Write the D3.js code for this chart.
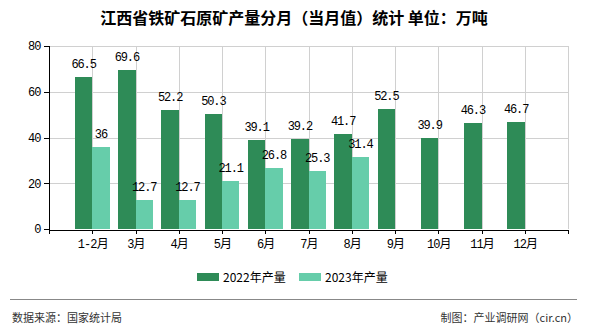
<!DOCTYPE html>
<html><head><meta charset="utf-8">
<script src="https://cdn.jsdelivr.net/npm/d3@7"></script>
<style>
html,body{margin:0;padding:0;background:#fff;}
svg{display:block;}
</style></head>
<body>
<script>
const categories = ["1-2月","3月","4月","5月","6月","7月","8月","9月","10月","11月","12月"];
const values2022 = [66.5,69.6,52.2,50.3,39.1,39.2,41.7,52.5,39.9,46.3,46.7];
const values2023 = [36,12.7,12.7,21.1,26.8,25.3,31.4,null,null,null,null];
const seriesNames = ["2022年产量","2023年产量"];
const seriesColors = ["#2E8B57","#66CDAA"];
const yTicks = [0,20,40,60,80];
const titleText = "江西省铁矿石原矿产量分月（当月值）统计 单位：万吨";
const sourceText = "数据来源：国家统计局";
const creditText = "制图：产业调研网（cir.cn）";

(function(){
const W = 590, H = 330;
const pL = 49, pR = 568, pT = 46, pB = 229;
const monoFont = "'Liberation Mono','Noto Sans CJK SC',monospace";
const cjkFont = "'Noto Sans CJK SC',sans-serif";

const svg = d3.select("body").append("svg").attr("width", W).attr("height", H);
svg.append("rect").attr("width", W).attr("height", H).attr("fill", "#fff");

const x = d3.scalePoint().domain(categories).range([pL, pR]).padding(1);
const y = d3.scaleLinear().domain([0, 80]).range([pB, pT]);
const bw = x.step() * 0.4;

// grid
const g = svg.append("g").attr("shape-rendering", "crispEdges");
g.selectAll(".hg").data(yTicks.filter(d => d > 0)).join("line")
  .attr("x1", pL).attr("x2", pR)
  .attr("y1", d => Math.round(y(d)) + 0.5).attr("y2", d => Math.round(y(d)) + 0.5)
  .attr("stroke", "#d0d0d0");
const vPos = categories.map(c => x(c)).concat([pR]);
g.selectAll(".vg").data(vPos).join("line")
  .attr("x1", d => Math.round(d) + 0.5).attr("x2", d => Math.round(d) + 0.5)
  .attr("y1", pT).attr("y2", pB)
  .attr("stroke", "#d0d0d0");

// bars
const bars = svg.append("g").attr("shape-rendering", "crispEdges");
bars.selectAll(".b22").data(categories).join("rect")
  .attr("x", d => x(d) - bw).attr("width", bw)
  .attr("y", (d, i) => y(values2022[i])).attr("height", (d, i) => y(0) - y(values2022[i]))
  .attr("fill", seriesColors[0]);
const cat23 = categories.filter((d, i) => values2023[i] != null);
bars.selectAll(".b23").data(cat23).join("rect")
  .attr("x", d => x(d)).attr("width", bw)
  .attr("y", (d, i) => y(values2023[i])).attr("height", (d, i) => y(0) - y(values2023[i]))
  .attr("fill", seriesColors[1]);

// bar labels
const labels = svg.append("g").attr("font-family", monoFont).attr("font-size", "12px")
  .attr("fill", "#000").attr("text-anchor", "middle").attr("letter-spacing", "-1.1px");
labels.selectAll(".l22").data(categories).join("text")
  .attr("x", d => x(d) - bw / 2).attr("y", (d, i) => y(values2022[i]) - 9)
  .text((d, i) => values2022[i]);
labels.selectAll(".l23").data(cat23).join("text")
  .attr("x", d => x(d) + bw / 2).attr("y", (d, i) => y(values2023[i]) - 9)
  .text((d, i) => values2023[i]);

// y axis
const yAxis = d3.axisLeft(y).tickValues(yTicks).tickSize(6).tickPadding(3);
const yg = svg.append("g").attr("transform", `translate(${pL + 0.5},0)`).call(yAxis);
yg.select(".domain").attr("stroke", "#000").attr("d", `M0,${pT}V${pB + 0.5}`);
yg.selectAll(".tick line").attr("stroke", "#000");
yg.selectAll("text").attr("font-family", monoFont).attr("font-size", "12px").attr("fill", "#000")
  .attr("letter-spacing", "-1px");
yg.attr("shape-rendering", "crispEdges");

// x axis
const xAxis = d3.axisBottom(x).tickSize(4).tickPadding(6).tickSizeOuter(4);
const xg = svg.append("g").attr("transform", `translate(0,${pB + 0.5})`).call(xAxis);
xg.select(".domain").attr("stroke", "#000");
xg.selectAll(".tick line").attr("stroke", "#000");
xg.selectAll("text").attr("font-family", monoFont).attr("font-size", "12px").attr("fill", "#000")
  .attr("letter-spacing", "-0.9px");
xg.attr("shape-rendering", "crispEdges");

// title
svg.append("text").attr("x", 294).attr("y", 24).attr("text-anchor", "middle")
  .attr("font-family", cjkFont).attr("font-size", "16px").attr("font-weight", "bold")
  .attr("fill", "#000").text(titleText);

// legend
const legX = [197, 299];
const leg = svg.append("g");
seriesNames.forEach((n, i) => {
  leg.append("rect").attr("x", legX[i]).attr("y", 273).attr("width", 22).attr("height", 8)
    .attr("fill", seriesColors[i]);
  leg.append("text").attr("x", legX[i] + 26).attr("y", 281.5)
    .attr("font-family", cjkFont).attr("font-size", "12px").attr("fill", "#000").text(n);
});

// footer
svg.append("line").attr("x1", 10).attr("x2", 577).attr("y1", 299.5).attr("y2", 299.5)
  .attr("stroke", "#888").attr("stroke-width", 1);
svg.append("text").attr("x", 12).attr("y", 321.5)
  .attr("font-family", cjkFont).attr("font-size", "11px").attr("fill", "#333").text(sourceText);
svg.append("text").attr("x", 578).attr("y", 321.5).attr("text-anchor", "end")
  .attr("font-family", cjkFont).attr("font-size", "11px").attr("fill", "#333").text(creditText);
})();
</script>
</body></html>
